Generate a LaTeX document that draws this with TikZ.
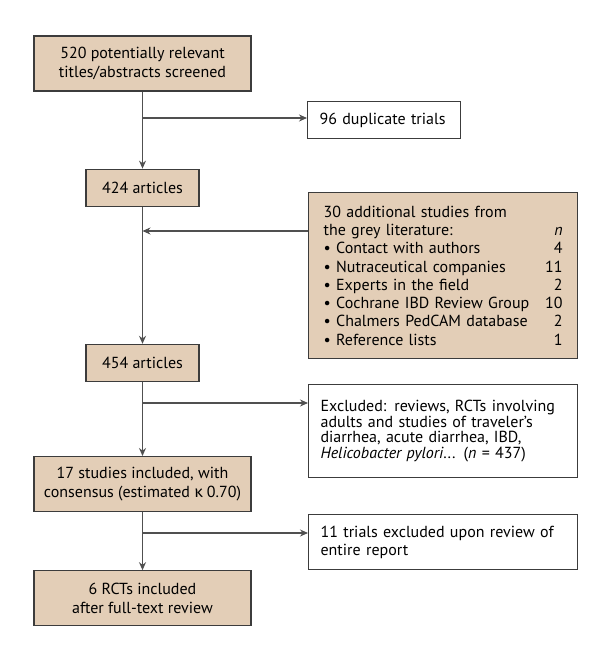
\documentclass[tikz,border=0pt]{standalone}
\usepackage{fontspec}
\setmainfont{PT Sans}
\newfontfamily\greekfont{Fira Sans}
\usepackage{xcolor}
\usetikzlibrary{arrows.meta,positioning}
\definecolor{boxtan}{HTML}{E3CEB7}
\definecolor{edgegrey}{HTML}{3C3C3C}
\definecolor{linegrey}{HTML}{505050}
\newcommand{\fsize}{\fontsize{16}{18.3}\selectfont}
\tikzset{
  stage/.style={draw=edgegrey, line width=1.2pt, fill=boxtan, align=center,
                font=\fsize, inner sep=4pt, minimum width=217pt, minimum height=55pt},
  short/.style={minimum width=113pt, minimum height=37pt},
  side/.style={draw=edgegrey, line width=1.2pt, fill=white, align=left,
               anchor=north west, font=\fsize, inner xsep=12pt, inner ysep=2pt},
  flow/.style={-{Stealth[length=8pt,width=7pt]}, draw=linegrey, line width=1.1pt},
}

\begin{document}
\begin{tikzpicture}[x=1pt, y=-1pt]
  \useasboundingbox (0,0) rectangle (600,656);
  % main column
  \node[stage] (screened) at (142.5,63.5) {520 potentially relevant\\titles/abstracts screened};
  \node[stage, short, below=77pt of screened] (art424) {424 articles};
  \node[stage, short, below=137pt of art424] (art454) {454 articles};
  \node[stage, below=74pt of art454] (studies) {17 studies included, with\\consensus (estimated {\greekfont κ} 0.70)};
  \node[stage, below=58pt of studies] (rcts) {6 RCTs included\\after full-text review};
  % side boxes
  \node[side, text width=129pt, minimum height=37pt] (dup) at (307,101) {96 duplicate trials};
  \node[side, fill=boxtan, text width=239pt, minimum width=269pt, minimum height=166pt] (grey) at (308,192)
    {30 additional studies from\\
     the grey literature: \hfill \textit{n}\\
     \textbullet\ Contact with authors \hfill 4\\
     \textbullet\ Nutraceutical companies \hfill 11\\
     \textbullet\ Experts in the field \hfill 2\\
     \textbullet\ Cochrane IBD Review Group \hfill 10\\
     \textbullet\ Chalmers PedCAM database \hfill 2\\
     \textbullet\ Reference lists \hfill 1};
  \node[side, text width=245pt, minimum height=93pt, font=\fontsize{16}{15.6}\selectfont] (excl) at (308,384)
    {Excluded: reviews, RCTs involving\\adults and studies of traveler’s\\diarrhea, acute diarrhea, IBD,\\
     \textit{Helicobacter pylori}... (\textit{n} = 437)};
  \node[side, text width=245pt, minimum height=55pt] (trials) at (308,514)
    {11 trials excluded upon review of\\entire report};
  % connectors
  \draw[flow] (screened) -- (art424);
  \draw[flow] (art424) -- (art454);
  \draw[flow] (art454) -- (studies);
  \draw[flow] (studies) -- (rcts);
  \coordinate (dupin) at (307,118);
  \coordinate (greyout) at (308,231);
  \coordinate (exclin) at (308,403);
  \coordinate (trialsin) at (308,533);
  \draw[flow] (dupin -| screened.south) -- (dupin);
  \draw[flow] (greyout) -- (greyout -| art424.south);
  \draw[flow] (exclin -| art454.south) -- (exclin);
  \draw[flow] (trialsin -| studies.south) -- (trialsin);
\end{tikzpicture}
\end{document}
